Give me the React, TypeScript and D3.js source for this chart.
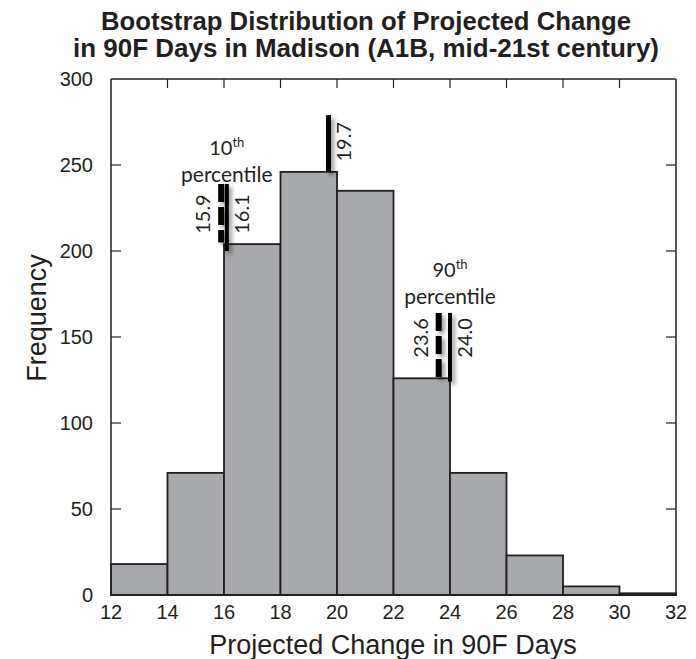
import React from "react";
import * as d3 from "d3";

const binStarts = [12, 14, 16, 18, 20, 22, 24, 26, 28, 30];
const binWidth = 2;
const counts = [18, 71, 204, 246, 235, 126, 71, 23, 5, 1];
const xTicks = [12, 14, 16, 18, 20, 22, 24, 26, 28, 30, 32];
const yTicks = [0, 50, 100, 150, 200, 250, 300];

// percentile markers (frequency units for vertical extents)
const markerValues = [15.9, 16.1, 19.7, 23.6, 24.0];
const markerLabels = ["15.9", "16.1", "19.7", "23.6", "24.0"];
const markerDashed = [true, false, false, true, false];
const markerSide = [-1, 1, 1, -1, 1];
const markerTop = [239, 239, 279, 164, 164];
const markerBottom = [205, 200, 246, 126, 124];
const markerLabelAt = [210, 210, 252, 138, 138];

const groupTitles = ["10", "90"];
const groupCenters = [16.1, 24.0];
const groupTitleY = [256, 185];

const W = 696;
const H = 659;
const M = { left: 111, right: 676, top: 79, bottom: 595 };

export default function App() {
  const x = d3.scaleLinear().domain([12, 32]).range([M.left, M.right]);
  const y = d3.scaleLinear().domain([0, 300]).range([M.bottom, M.top]);
  const annFont = "Lato, 'Open Sans', sans-serif";
  const axFont = "'Liberation Sans', Arial, sans-serif";
  const ink = "#231f20";

  return (
    <svg width={W} height={H} style={{ position: "absolute", left: 0, top: 0 }}>
      <defs>
        <filter id="shadow" filterUnits="userSpaceOnUse" x={0} y={0} width={W} height={H}>
          <feGaussianBlur in="SourceAlpha" stdDeviation="2" />
          <feOffset dx="3" dy="3" result="b" />
          <feComponentTransfer>
            <feFuncA type="linear" slope="0.4" />
          </feComponentTransfer>
          <feMerge>
            <feMergeNode />
            <feMergeNode in="SourceGraphic" />
          </feMerge>
        </filter>
      </defs>
      <rect width={W} height={H} fill="#fff" />
      {/* title */}
      <text x={366} y={30} textAnchor="middle" fontFamily={axFont} fontWeight="bold" fontSize={25} fill={ink}
        textLength={530} lengthAdjust="spacingAndGlyphs">
        Bootstrap Distribution of Projected Change
      </text>
      <text x={366} y={57} textAnchor="middle" fontFamily={axFont} fontWeight="bold" fontSize={25} fill={ink}
        textLength={586} lengthAdjust="spacingAndGlyphs">
        in 90F Days in Madison (A1B, mid-21st century)
      </text>

      {/* bars */}
      {binStarts.map((s, i) => (
        <rect
          key={i}
          x={x(s)}
          y={y(counts[i])}
          width={x(s + binWidth) - x(s)}
          height={y(0) - y(counts[i])}
          fill="#a7a9ac"
          stroke={ink}
          strokeWidth={1.8}
        />
      ))}

      {/* frame */}
      <line x1={M.left} x2={M.right} y1={M.top} y2={M.top} stroke={ink} strokeWidth={1.5} />
      <line x1={M.left} x2={M.left} y1={M.top} y2={M.bottom} stroke={ink} strokeWidth={1.5} />
      <line x1={M.right} x2={M.right} y1={M.top} y2={M.bottom} stroke={ink} strokeWidth={1.5} />
      <line x1={M.left} x2={M.right} y1={M.bottom} y2={M.bottom} stroke={ink} strokeWidth={2} />

      {/* ticks */}
      {xTicks.slice(1, -1).map((t) => (
        <line key={"tx" + t} x1={x(t)} x2={x(t)} y1={M.top} y2={M.top + 9} stroke={ink} strokeWidth={1.2} />
      ))}
      {yTicks.slice(1, -1).map((t) => (
        <g key={"ty" + t}>
          <line x1={M.left} x2={M.left + 10} y1={y(t)} y2={y(t)} stroke={ink} strokeWidth={1.2} />
          <line x1={M.right - 10} x2={M.right} y1={y(t)} y2={y(t)} stroke={ink} strokeWidth={1.2} />
        </g>
      ))}

      {/* tick labels */}
      {xTicks.map((t) => (
        <text key={"lx" + t} x={x(t)} y={619} textAnchor="middle" fontFamily={axFont} fontSize={20} fill={ink}>
          {t}
        </text>
      ))}
      {yTicks.map((t) => (
        <text key={"ly" + t} x={93} y={y(t) + 7} textAnchor="end" fontFamily={axFont} fontSize={20} fill={ink}>
          {t}
        </text>
      ))}

      {/* axis titles */}
      <text x={393} y={654} textAnchor="middle" fontFamily={axFont} fontSize={27} fill={ink}>
        Projected Change in 90F Days
      </text>
      <text
        transform={`translate(46,318) rotate(-90)`}
        textAnchor="middle"
        fontFamily={axFont}
        fontSize={27}
        fill={ink}
      >
        Frequency
      </text>

      {/* percentile markers */}
      <g filter="url(#shadow)">
        {markerValues.map((v, i) => (
          <line
            key={"ml" + i}
            x1={x(v)}
            x2={x(v)}
            y1={y(markerTop[i])}
            y2={y(markerBottom[i])}
            stroke="#000"
            strokeWidth={markerDashed[i] ? 6 : i === 2 ? 5 : 4}
            strokeDasharray={markerDashed[i] ? "18 5" : undefined}
          />
        ))}
      </g>
      {markerValues.map((v, i) => (
        <text
          key={"mt" + i}
          transform={`translate(${x(v) + markerSide[i] * (markerSide[i] < 0 ? 11 : 6)},${y(markerLabelAt[i])}) rotate(-90)`}
          textAnchor="start"
          dominantBaseline={markerSide[i] < 0 ? "auto" : "hanging"}
          fontFamily={annFont}
          fontSize={20}
          fill={ink}
        >
          {markerLabels[i]}
        </text>
      ))}

      {/* percentile group titles */}
      {groupTitles.map((g, i) => (
        <g key={"g" + i}>
          <text x={x(groupCenters[i])} y={y(groupTitleY[i])} textAnchor="middle" fontFamily={annFont} fontSize={20} fill={ink}>
            {g}
            <tspan fontSize={13} dy={-8}>th</tspan>
          </text>
          <text x={x(groupCenters[i])} y={y(groupTitleY[i]) + 27} textAnchor="middle" fontFamily={annFont} fontSize={21} fill={ink}>
            percentile
          </text>
        </g>
      ))}
    </svg>
  );
}
